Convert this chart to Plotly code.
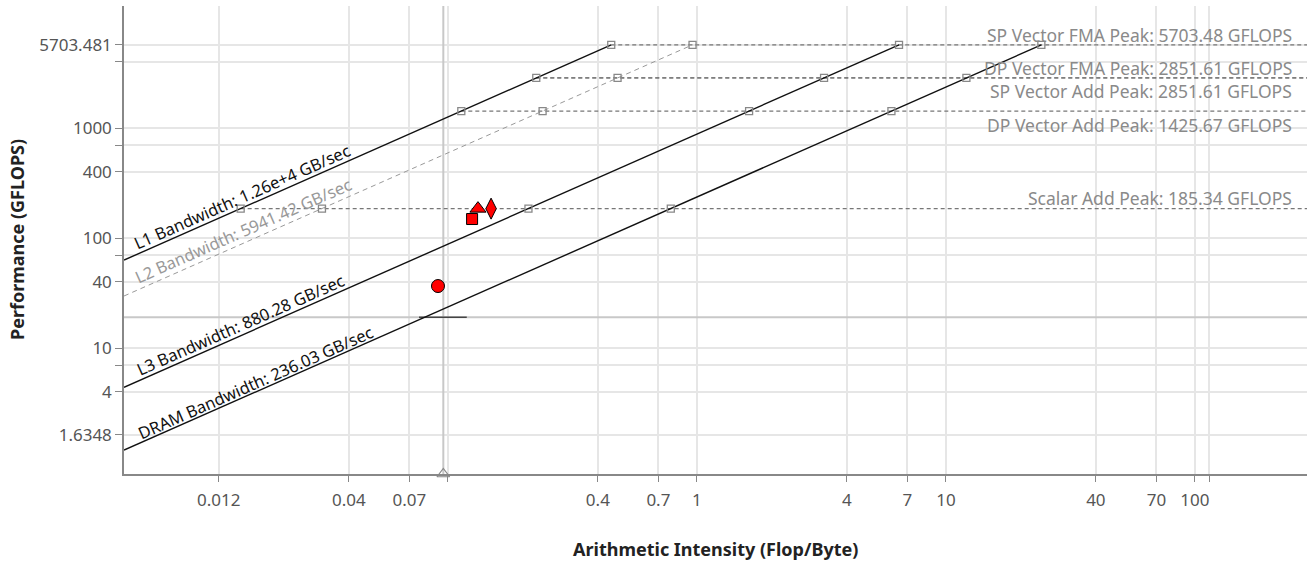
import numpy as np
import plotly.graph_objects as go

# ---------------- data ----------------
bw_labels = ["L1 Bandwidth: 1.26e+4 GB/sec", "L2 Bandwidth: 5941.42 GB/sec",
             "L3 Bandwidth: 880.28 GB/sec", "DRAM Bandwidth: 236.03 GB/sec"]
bw_values = [12600.0, 5941.42, 880.28, 236.03]          # GB/sec

peak_names = ["SP Vector FMA Peak", "DP Vector FMA Peak", "SP Vector Add Peak",
              "DP Vector Add Peak", "Scalar Add Peak"]
peak_values = [5703.48, 2851.61, 2851.61, 1425.67, 185.34]  # GFLOPS

loop_ai = [0.0912, 0.125, 0.132, 0.149]        # Flop/Byte
loop_gflops = [36.6, 148.8, 185.0, 185.0]      # GFLOPS
loop_symbols = ["circle", "square", "triangle-up", "diamond-tall"]

guide_ai = 0.0958
guide_gflops = 19.0
guide_segment_ai = [0.0765, 0.119]

x_tickvals = [0.012, 0.04, 0.07, 0.1, 0.4, 0.7, 1, 4, 7, 10, 40, 70, 100, 114]
x_ticktext = ["0.012", "0.04", "0.07", "", "0.4", "0.7", "1", "4", "7", "10", "40", "70", "100", ""]
y_tickvals = [1.6348, 4, 7, 10, 40, 70, 100, 400, 700, 1000, 4000, 5703.481]
y_ticktext = ["1.6348", "4", "", "10", "40", "", "100", "400", "", "1000", "", "5703.481"]

# ---------------- styles ----------------
X_RANGE = [-2.301, 2.450]
Y_RANGE = [-0.145, 4.109]
FONT = "Noto Sans"
bw_colors = ["#111111", "#999999", "#111111", "#111111"]
bw_dash = ["solid", "dash", "solid", "solid"]
bw_width = [1.4, 1.0, 1.4, 1.4]
bw_label_x = [0.0149, 0.0150, 0.0147, 0.0168]
bw_label_shift = [11, 13, 11, 10]
peak_label_shift = [10, 10, -13, -14, 11]
ANGLE = -np.degrees(np.arctan(110 / 249))

xmin, xmax = 10 ** X_RANGE[0], 10 ** X_RANGE[1]
ymin = 10 ** Y_RANGE[0]
top_peak = max(peak_values)
top_bw = max(bw_values)

fig = go.Figure()

# guide lines
fig.add_trace(go.Scatter(x=[guide_ai, guide_ai], y=[ymin, 10 ** Y_RANGE[1]], mode="lines",
                         line=dict(color="#c8c8c8", width=2), hoverinfo="skip", showlegend=False))
fig.add_trace(go.Scatter(x=[xmin, xmax], y=[guide_gflops, guide_gflops], mode="lines",
                         line=dict(color="#c8c8c8", width=2), hoverinfo="skip", showlegend=False))
fig.add_trace(go.Scatter(x=guide_segment_ai, y=[guide_gflops, guide_gflops], mode="lines",
                         line=dict(color="#444444", width=1.5), hoverinfo="skip", showlegend=False))

# peak roofs
for p in peak_values:
    fig.add_trace(go.Scatter(x=[p / top_bw, xmax], y=[p, p], mode="lines",
                             line=dict(color="#777777", width=1.3, dash="4px,3px"),
                             hoverinfo="skip", showlegend=False))

# bandwidth roofs
for bw, c, d, w in zip(bw_values, bw_colors, bw_dash, bw_width):
    fig.add_trace(go.Scatter(x=[xmin, top_peak / bw], y=[bw * xmin, top_peak], mode="lines",
                             line=dict(color=c, width=w, dash=d if d == "solid" else "5px,4px"),
                             hoverinfo="skip", showlegend=False))

# intersection markers
ix, iy = [], []
for p in sorted(set(peak_values)):
    for bw in bw_values:
        ix.append(p / bw)
        iy.append(p)
fig.add_trace(go.Scatter(x=ix, y=iy, mode="markers",
                         marker=dict(symbol="square-open", size=7, color="#888888", line=dict(width=1.3)),
                         hoverinfo="skip", showlegend=False))

# axis triangle marker
fig.add_trace(go.Scatter(x=[guide_ai], y=[ymin], mode="markers", cliponaxis=False,
                         marker=dict(symbol="triangle-up-open", size=11, color="#888888", line=dict(width=1.2)),
                         hoverinfo="skip", showlegend=False))

# loops
for xa, ya, s in zip(loop_ai, loop_gflops, loop_symbols):
    size = {"circle": 13, "square": 11, "triangle-up": 14, "diamond-tall": 15}[s]
    fig.add_trace(go.Scatter(x=[xa], y=[ya], mode="markers",
                             marker=dict(symbol=s, size=size, color="#ff0000",
                                         line=dict(color="#000000", width=1)),
                             showlegend=False))

ann = []
for lab, bw, c, lx, sh in zip(bw_labels, bw_values, bw_colors, bw_label_x, bw_label_shift):
    ann.append(dict(x=np.log10(lx), y=np.log10(bw * lx), xref="x", yref="y", text=lab,
                    showarrow=False, textangle=ANGLE, yshift=sh,
                    font=dict(family=FONT, size=16.5, color=c)))
for name, p, sh in zip(peak_names, peak_values, peak_label_shift):
    ann.append(dict(x=1, y=np.log10(p), xref="paper", yref="y", xanchor="right", yanchor="middle",
                    xshift=-13, yshift=sh, text=f"{name}: {p:.2f} GFLOPS", showarrow=False,
                    font=dict(family=FONT, size=17.5, color="#8a8a8a")))
ann.append(dict(x=0.5, y=0, xref="paper", yref="paper", yanchor="middle", yshift=-75,
                text="<b>Arithmetic Intensity (Flop/Byte)</b>", showarrow=False,
                font=dict(family=FONT, size=18, color="#222222")))
ann.append(dict(x=0, y=0.5, xref="paper", yref="paper", xanchor="center", xshift=-107,
                text="<b>Performance (GFLOPS)</b>", showarrow=False, textangle=-90,
                font=dict(family=FONT, size=18, color="#222222")))

axis_common = dict(type="log", showgrid=True, gridcolor="#e6e6e6", gridwidth=1.5,
                   showline=True, linecolor="#888888", linewidth=1.5, ticks="outside",
                   tickcolor="#888888", tickfont=dict(family=FONT, size=17, color="#555555"),
                   zeroline=False)

fig.update_layout(
    width=1310, height=562,
    margin=dict(l=124, r=3, t=6, b=88),
    paper_bgcolor="white", plot_bgcolor="white",
    xaxis=dict(range=X_RANGE, tickvals=x_tickvals, ticktext=x_ticktext, ticklen=6,
               ticklabelstandoff=4, **axis_common),
    yaxis=dict(range=Y_RANGE, tickvals=y_tickvals, ticktext=y_ticktext, ticklen=7, **axis_common),
    annotations=ann,
    showlegend=False,
)

fig.write_html("out.html", config={"displayModeBar": False},
               post_script="document.body.style.margin='0';document.body.style.padding='0';")
